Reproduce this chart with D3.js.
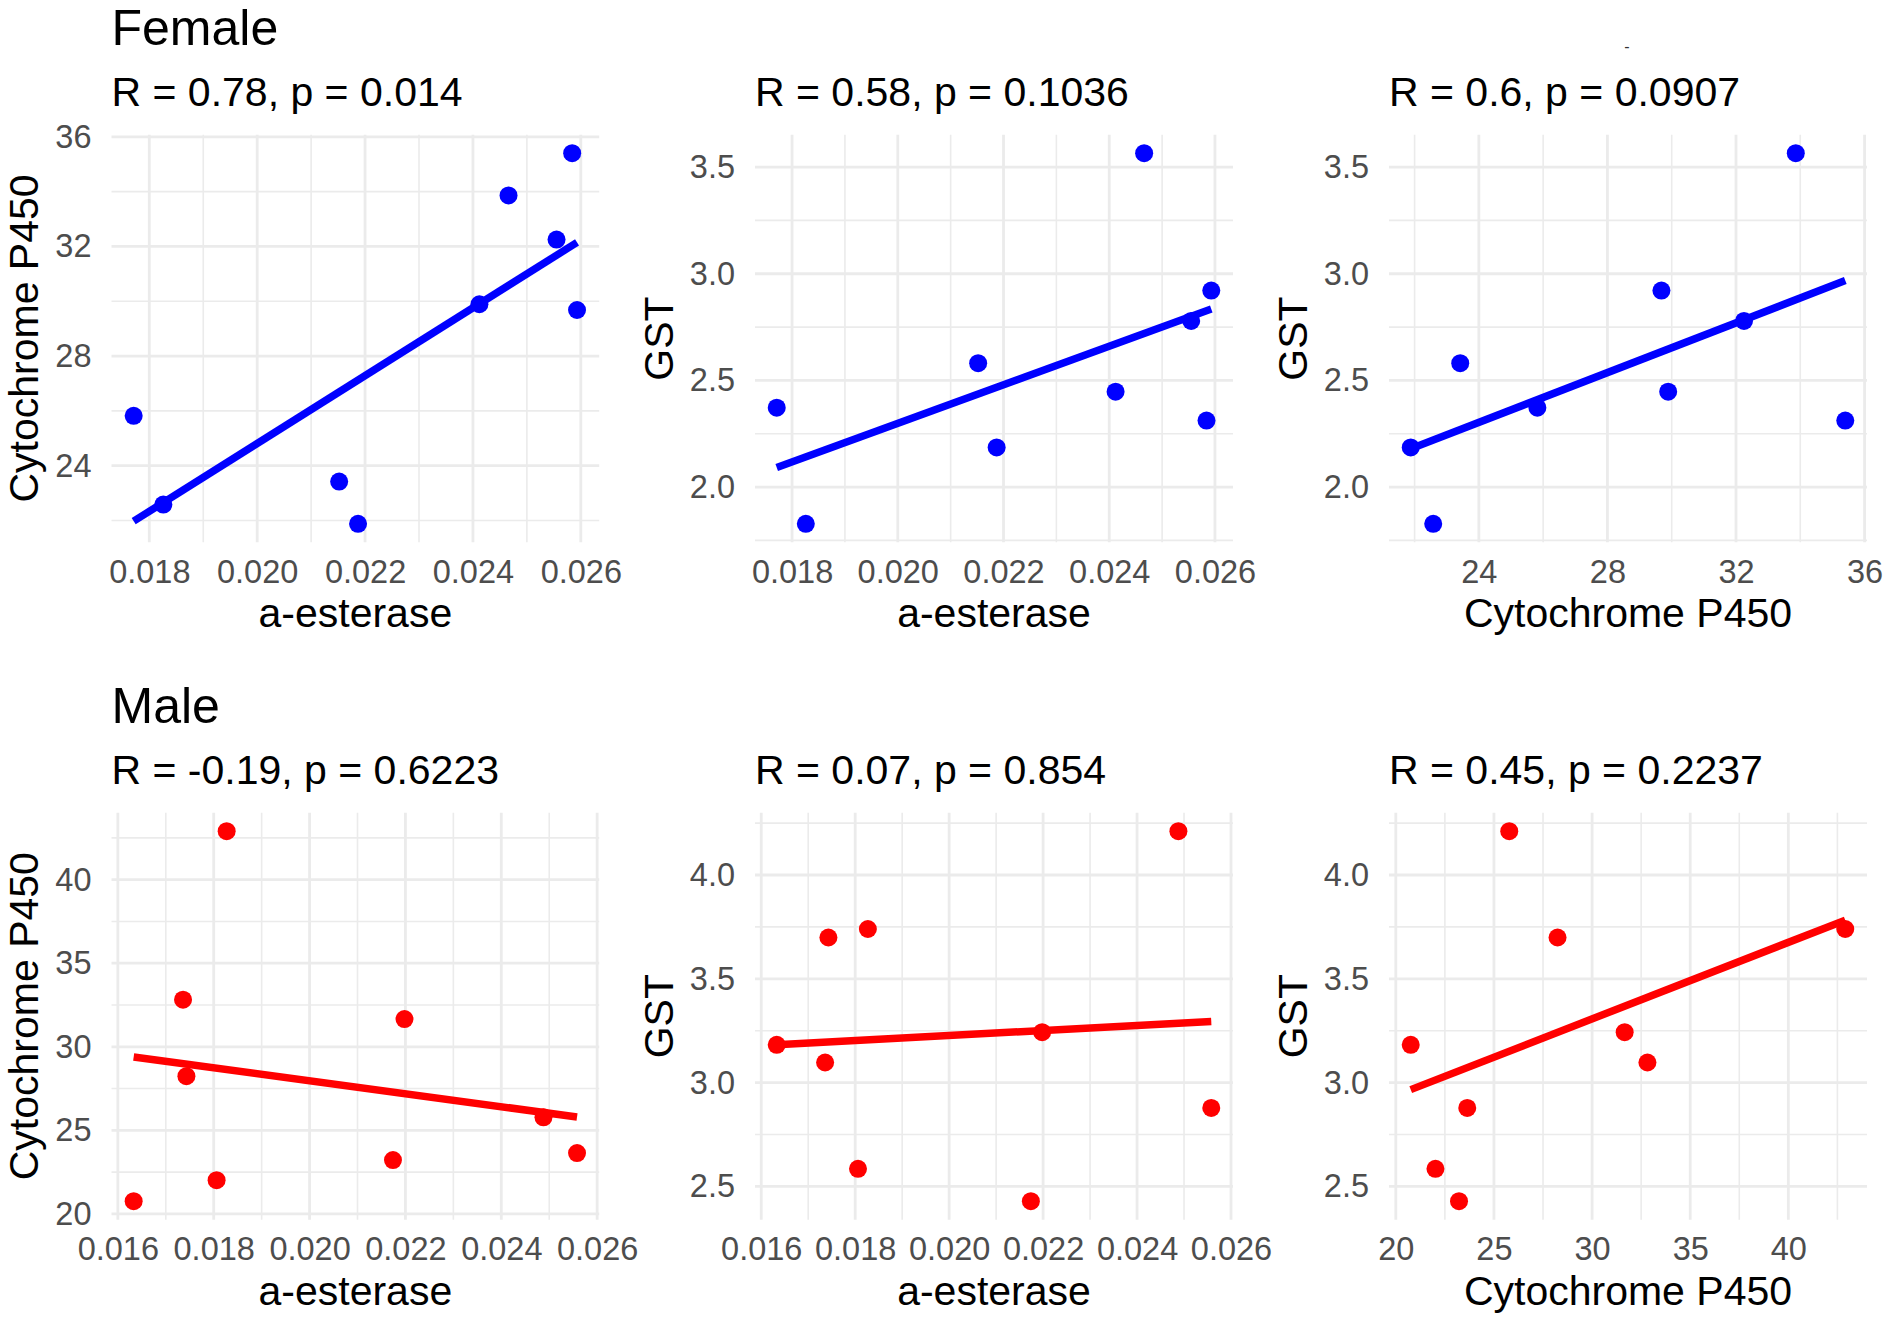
<!DOCTYPE html>
<html>
<head>
<meta charset="utf-8">
<script src="https://cdn.jsdelivr.net/npm/d3@7"></script>
<style>
  body { margin: 0; background: #fff; }
  svg { display: block; font-family: "Liberation Sans", Arial, Helvetica, sans-serif; }
</style>
</head>
<body>
<div id="chart"></div>
<script>
// values, one entry per animal (same order in each array)
const femaleEsterase = [0.01771, 0.01826, 0.02152, 0.02187, 0.02412, 0.02466, 0.02555, 0.02584, 0.02593];
const femaleP450     = [25.82, 22.58, 23.42, 21.88, 29.89, 33.86, 32.25, 35.40, 29.68];
const femaleGST      = [2.372, 1.828, 2.581, 2.186, 2.447, 3.565, 2.779, 2.312, 2.921];

const maleEsterase = [0.01633, 0.01736, 0.01743, 0.01806, 0.01827, 0.02174, 0.02198, 0.02488, 0.02558];
const maleP450     = [20.76, 32.82, 28.24, 22.02, 42.90, 23.22, 31.66, 25.78, 23.64];
const maleGST      = [3.182, 3.097, 3.699, 2.585, 3.740, 2.429, 3.243, 4.211, 2.878];

const rowTitles = ["Female", "Male"];
const statLabels = [
    ["R = 0.78, p = 0.014", "R = 0.58, p = 0.1036", "R = 0.6, p = 0.0907"],
    ["R = -0.19, p = 0.6223", "R = 0.07, p = 0.854", "R = 0.45, p = 0.2237"]
];

// tick labels (major) and minor grid breaks
const esteraseTicksF = [0.018, 0.020, 0.022, 0.024, 0.026];
const esteraseMinorF = [0.019, 0.021, 0.023, 0.025];
const p450TicksF = [24, 28, 32, 36];
const p450MinorF = [22, 26, 30, 34];
const gstTicksF = [2.0, 2.5, 3.0, 3.5];
const gstMinorF = [1.75, 2.25, 2.75, 3.25];

const esteraseTicksM = [0.016, 0.018, 0.020, 0.022, 0.024, 0.026];
const esteraseMinorM = [0.017, 0.019, 0.021, 0.023, 0.025];
const p450TicksM = [20, 25, 30, 35, 40];
const p450MinorM = [22.5, 27.5, 32.5, 37.5, 42.5];
const gstTicksM = [2.5, 3.0, 3.5, 4.0];
const gstMinorM = [2.75, 3.25, 3.75, 4.25];

const W = 1890, H = 1328;
const colX = [[111.5, 599.2], [755, 1233], [1389, 1867]];
const rowY = [[134.7, 542.3], [812.7, 1219.7]];
const yTitleX = [38, 673, 1307];
const rowColors = ["#0000ff", "#ff0000"];

const fmtEst = d3.format(".3f"), fmtInt = d3.format("d"), fmtGst = d3.format(".1f");

const rows = [
    {
        color: rowColors[0],
        panels: [
            {x: femaleEsterase, y: femaleP450, xt: esteraseTicksF, xm: esteraseMinorF, yt: p450TicksF, ym: p450MinorF, xf: fmtEst, yf: fmtInt, xl: "a-esterase", yl: "Cytochrome P450"},
            {x: femaleEsterase, y: femaleGST, xt: esteraseTicksF, xm: esteraseMinorF, yt: gstTicksF, ym: gstMinorF, xf: fmtEst, yf: fmtGst, xl: "a-esterase", yl: "GST"},
            {x: femaleP450, y: femaleGST, xt: p450TicksF, xm: p450MinorF, yt: gstTicksF, ym: gstMinorF, xf: fmtInt, yf: fmtGst, xl: "Cytochrome P450", yl: "GST"}
        ]
    },
    {
        color: rowColors[1],
        panels: [
            {x: maleEsterase, y: maleP450, xt: esteraseTicksM, xm: esteraseMinorM, yt: p450TicksM, ym: p450MinorM, xf: fmtEst, yf: fmtInt, xl: "a-esterase", yl: "Cytochrome P450"},
            {x: maleEsterase, y: maleGST, xt: esteraseTicksM, xm: esteraseMinorM, yt: gstTicksM, ym: gstMinorM, xf: fmtEst, yf: fmtGst, xl: "a-esterase", yl: "GST"},
            {x: maleP450, y: maleGST, xt: p450TicksM, xm: p450MinorM, yt: gstTicksM, ym: gstMinorM, xf: fmtInt, yf: fmtGst, xl: "Cytochrome P450", yl: "GST"}
        ]
    }
];

// ggplot style 5% expansion on each side
const expanded = vals => {
    let [lo, hi] = d3.extent(vals);
    let pad = (hi - lo) * 0.05;
    return [lo - pad, hi + pad];
};

// least squares fit, like geom_smooth(method = "lm")
const lmFit = (xs, ys) => {
    let mx = d3.mean(xs), my = d3.mean(ys);
    let sxy = d3.sum(xs, (v, i) => (v - mx) * (ys[i] - my));
    let sxx = d3.sum(xs, v => (v - mx) * (v - mx));
    let b = sxy / sxx;
    return v => my + b * (v - mx);
};

let svg = d3.select("#chart")
    .append("svg")
    .attr("width", W)
    .attr("height", H);

svg.append("rect").attr("width", W).attr("height", H).attr("fill", "#fff");

rows.forEach((row, ri) => {
    let [top, bottom] = rowY[ri];

    svg.append("text")
        .attr("x", colX[0][0])
        .attr("y", top - 89.5)
        .attr("font-size", 50)
        .attr("fill", "#000")
        .text(rowTitles[ri]);

    row.panels.forEach((p, ci) => {
        let [left, right] = colX[ci];

        let x = d3.scaleLinear().domain(expanded(p.x)).range([left, right]);
        let y = d3.scaleLinear().domain(expanded(p.y)).range([bottom, top]);

        let g = svg.append("g");

        // grid: minor first, then major
        g.selectAll(".vminor").data(p.xm).enter().append("line")
            .attr("x1", d => x(d)).attr("x2", d => x(d))
            .attr("y1", top).attr("y2", bottom)
            .attr("stroke", "#ebebeb").attr("stroke-width", 1.6);
        g.selectAll(".hminor").data(p.ym).enter().append("line")
            .attr("y1", d => y(d)).attr("y2", d => y(d))
            .attr("x1", left).attr("x2", right)
            .attr("stroke", "#ebebeb").attr("stroke-width", 1.6);
        g.selectAll(".vmajor").data(p.xt).enter().append("line")
            .attr("x1", d => x(d)).attr("x2", d => x(d))
            .attr("y1", top).attr("y2", bottom)
            .attr("stroke", "#ebebeb").attr("stroke-width", 2.8);
        g.selectAll(".hmajor").data(p.yt).enter().append("line")
            .attr("y1", d => y(d)).attr("y2", d => y(d))
            .attr("x1", left).attr("x2", right)
            .attr("stroke", "#ebebeb").attr("stroke-width", 2.8);

        // axes (labels only)
        let xAxis = g.append("g")
            .attr("transform", "translate(0," + bottom + ")")
            .call(d3.axisBottom(x).tickValues(p.xt).tickFormat(p.xf).tickSize(0).tickPadding(17.6));
        let yAxis = g.append("g")
            .attr("transform", "translate(" + left + ",0)")
            .call(d3.axisLeft(y).tickValues(p.yt).tickFormat(p.yf).tickSize(0).tickPadding(20));
        [xAxis, yAxis].forEach(a => {
            a.select(".domain").remove();
            a.attr("font-size", 32.5).attr("font-family", null);
            a.selectAll("text").attr("fill", "#4d4d4d");
        });

        // points
        let pts = p.x.map((v, i) => [v, p.y[i]]);
        g.selectAll("circle").data(pts).enter().append("circle")
            .attr("cx", d => x(d[0]))
            .attr("cy", d => y(d[1]))
            .attr("r", 9)
            .attr("fill", row.color);

        // fitted line over the data range
        let fit = lmFit(p.x, p.y);
        let ends = d3.extent(p.x);
        g.append("line")
            .attr("x1", x(ends[0])).attr("y1", y(fit(ends[0])))
            .attr("x2", x(ends[1])).attr("y2", y(fit(ends[1])))
            .attr("stroke", row.color)
            .attr("stroke-width", 7.5);

        // titles
        g.append("text")
            .attr("x", left)
            .attr("y", top - 29)
            .attr("font-size", 41)
            .attr("fill", "#000")
            .text(statLabels[ri][ci]);

        g.append("text")
            .attr("x", (left + right) / 2)
            .attr("y", bottom + 85)
            .attr("text-anchor", "middle")
            .attr("font-size", 41)
            .attr("fill", "#000")
            .text(p.xl);

        g.append("text")
            .attr("transform", "translate(" + yTitleX[ci] + "," + ((top + bottom) / 2) + ") rotate(-90)")
            .attr("text-anchor", "middle")
            .attr("font-size", 41)
            .attr("fill", "#000")
            .text(p.yl);
    });
});

// small stray mark above the top-right panel in the original
svg.append("text")
    .attr("x", 1627)
    .attr("y", 52)
    .attr("text-anchor", "middle")
    .attr("font-size", 16)
    .attr("fill", "#333")
    .text("-");
</script>
</body>
</html>
